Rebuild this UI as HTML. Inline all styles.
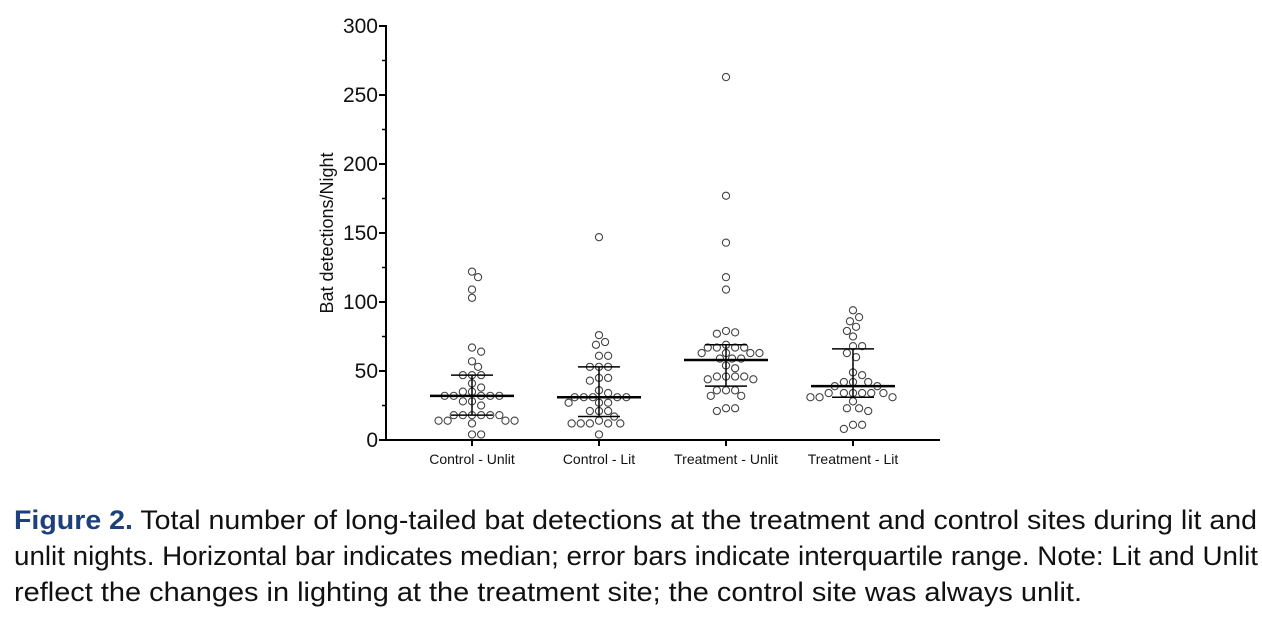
<!DOCTYPE html>
<html><head><meta charset="utf-8"><style>
body{margin:0;background:#fff;width:1262px;height:622px;overflow:hidden;font-family:"Liberation Sans",sans-serif}
.cl{position:absolute;left:14px;font-size:27px;line-height:36px;color:#111;white-space:nowrap;transform-origin:0 0}
.cl b{color:#1d3f7c}
</style></head><body>
<svg id="chart" width="1262" height="490" style="position:absolute;left:0;top:0"></svg>
<div>
<div class="cl" data-w="1243" style="top:502px"><b>Figure 2.</b> Total number of long-tailed bat detections at the treatment and control sites during lit and</div>
<div class="cl" data-w="1244" style="top:538px">unlit nights. Horizontal bar indicates median; error bars indicate interquartile range. Note: Lit and Unlit</div>
<div class="cl" data-w="1068" style="top:574px">reflect the changes in lighting at the treatment site; the control site was always unlit.</div>
</div>
<script>
const categories=["Control - Unlit","Control - Lit","Treatment - Unlit","Treatment - Lit"];
const yTicks=[0,50,100,150,200,250,300];
const g1=[122,118,109,103,67,64,57,53,47,47,47,41,38,35,35,32,32,32,32,32,28,28,25,18,18,18,18,18,18,14,14,14,14,12,4,4];
const g2=[147,76,71,69,61,61,53,53,53,45,45,43,36,34,31,31,31,31,31,27,27,27,21,21,21,17,14,12,12,12,12,12,4];
const g3=[263,177,143,118,109,79,78,77,69,67,67,67,67,63,63,63,63,59,59,59,54,52,46,46,46,46,44,44,36,36,36,32,32,23,23,21];
const g4=[94,89,86,82,79,75,68,68,63,60,49,47,42,42,42,39,39,34,34,34,34,34,34,31,31,31,28,23,23,21,11,11,8];
const series=[g1,g2,g3,g4];
const medians=[32,31,58,39];
const q1=[18,17,39,31];
const q3=[47,53,69,66];
document.querySelectorAll('.cl').forEach(d=>{const w=d.getBoundingClientRect().width;d.style.transform='scaleX('+(+d.dataset.w/w)+')';});
const NS="http://www.w3.org/2000/svg";
const svg=document.getElementById('chart');
const X0=386,X1=940,Y0=440,Y300=26;
const y=v=>Y0-(v/300)*(Y0-Y300);
const xc=i=>472+i*127;
function mk(t,a,p){const e=document.createElementNS(NS,t);for(const k in a)e.setAttribute(k,a[k]);(p||svg).appendChild(e);return e;}
let ax=mk('line',{x1:X0,y1:Y0,x2:X0,y2:Y300-1,stroke:'#000','stroke-width':2});

let bx=mk('line',{x1:X0-1,y1:Y0,x2:X1,y2:Y0,stroke:'#000','stroke-width':2});

yTicks.forEach(v=>{
  mk('line',{x1:X0-7,y1:y(v),x2:X0,y2:y(v),stroke:'#000','stroke-width':2});
  if(v<300)mk('line',{x1:X0-4,y1:y(v+25),x2:X0,y2:y(v+25),stroke:'#000','stroke-width':1.5});
  const t=mk('text',{x:X0-8,y:y(v)+7,'text-anchor':'end','font-size':21,fill:'#111'});
  t.textContent=v;
  
  
});
const yt=mk('text',{transform:'translate(333,233) rotate(-90)','text-anchor':'middle','font-size':18,fill:'#111'});
yt.textContent='Bat detections/Night';


categories.forEach((c,i)=>{
  mk('line',{x1:xc(i),y1:Y0,x2:xc(i),y2:Y0+6,stroke:'#000','stroke-width':2});
  const t=mk('text',{x:xc(i),y:Y0+24,'text-anchor':'middle','font-size':14,fill:'#111'});
  t.textContent=c;
  
  
});
const R=3.6,D=7.6;
series.forEach((vals,i)=>{
  const g=mk('g',{});
  
  
  const placed=[];
  vals.forEach(v=>{
    const py=y(v);let off=0;
    for(let k=0;k<60;k++){
      const cand=k===0?0:(k%2?1:-1)*Math.ceil(k/2)*D*0.4;
      const ok=placed.every(p=>Math.hypot(p[0]-cand,p[1]-py)>=D);
      if(ok){off=cand;break;}
    }
    placed.push([off,py]);
    const c=mk('circle',{cx:xc(i)+off,cy:py,r:R,fill:'none',stroke:'#444','stroke-width':1.1},g);
    
    
  });
  mk('line',{x1:xc(i),y1:y(q1[i]),x2:xc(i),y2:y(q3[i]),stroke:'#000','stroke-width':1.5},g);
  mk('line',{x1:xc(i)-21,y1:y(q1[i]),x2:xc(i)+21,y2:y(q1[i]),stroke:'#000','stroke-width':1.5},g);
  mk('line',{x1:xc(i)-21,y1:y(q3[i]),x2:xc(i)+21,y2:y(q3[i]),stroke:'#000','stroke-width':1.5},g);
  const m=mk('line',{x1:xc(i)-42,y1:y(medians[i]),x2:xc(i)+42,y2:y(medians[i]),stroke:'#000','stroke-width':2.5},g);
  
  
});
</script>
</body></html>
